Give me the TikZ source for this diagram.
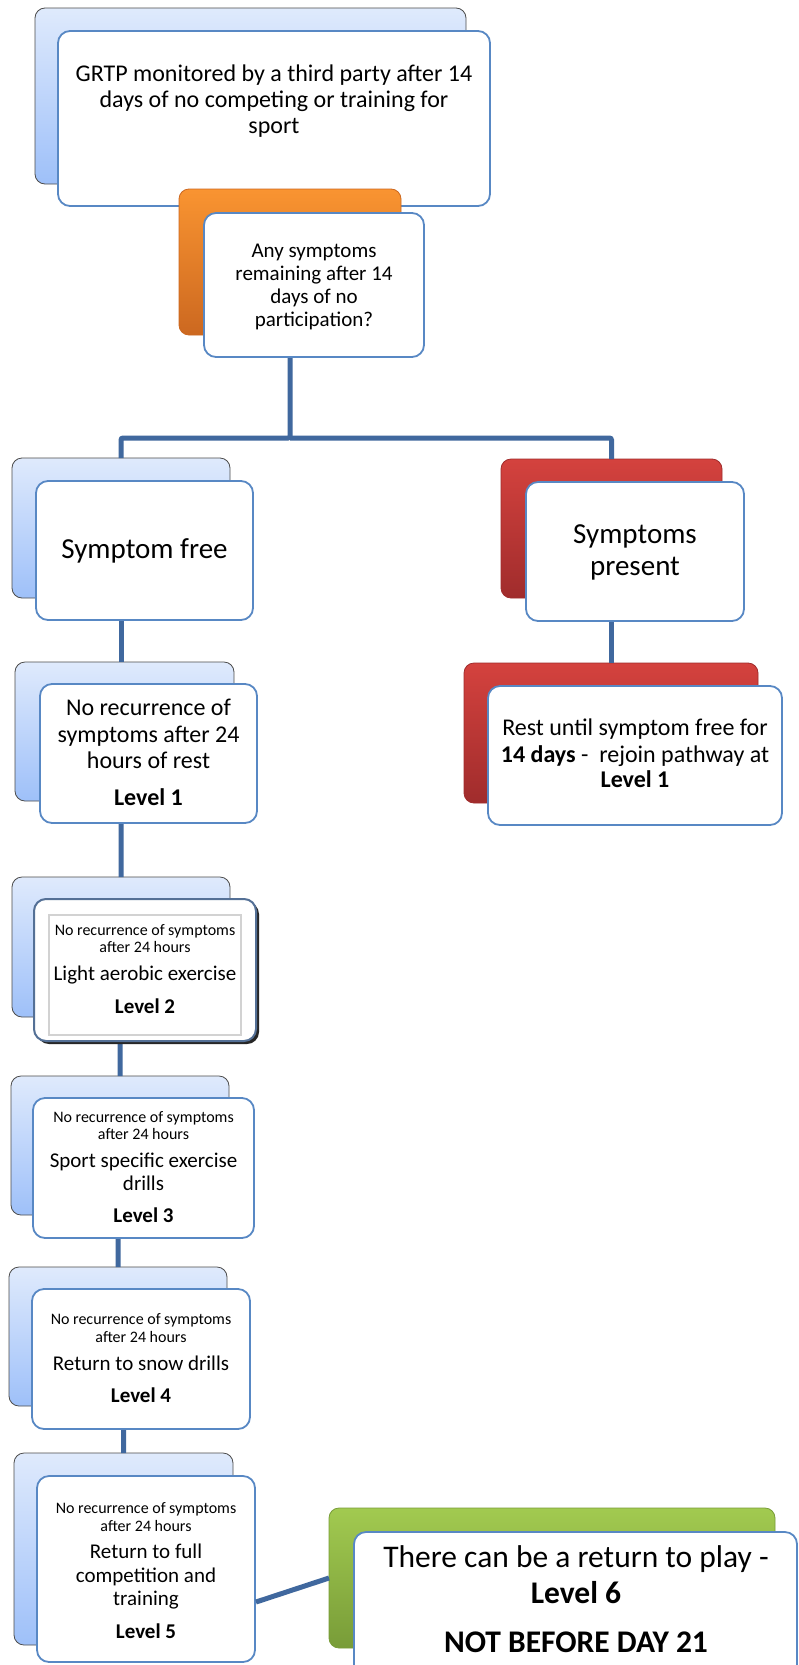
\documentclass[tikz,border=0pt]{standalone}
\usepackage{fontspec}
\setmainfont{Carlito}
\definecolor{bbTop}{RGB}{223,234,252}
\definecolor{bbBot}{RGB}{158,192,249}
\definecolor{orTop}{RGB}{249,148,49}
\definecolor{orBot}{RGB}{204,104,32}
\definecolor{rdTop}{RGB}{212,66,62}
\definecolor{rdBot}{RGB}{160,44,44}
\definecolor{grTop}{RGB}{162,202,80}
\definecolor{grBot}{RGB}{120,156,56}
\definecolor{frC}{RGB}{88,136,196}
\definecolor{connC}{RGB}{64,104,158}
\newcommand\fXL{\fontsize{31.5}{36}\selectfont}
\newcommand\fLg{\fontsize{29}{32}\selectfont}
\newcommand\fMd{\fontsize{24}{26.5}\selectfont}
\newcommand\fQn{\fontsize{21}{23}\selectfont}
\newcommand\fSm{\fontsize{16}{17.5}\selectfont}
\newcommand\bx[6]{\node[#1, minimum width={#5-#3}, minimum height={#6-#4}] (#2) at (#3,#4) {};}
\newcommand\tx[5]{\node[txt, font=#4] (#1) at (#2,#3) {#5};}
\tikzset{
  conn/.style={draw=connC, line width=5pt, rounded corners=2pt},
  bk/.style={anchor=north west, inner sep=0pt, outer sep=0pt, rounded corners=10pt, line width=0.8pt},
  bkblue/.style={bk, draw=black!70, top color=bbTop, bottom color=bbBot},
  bkorange/.style={bk, draw=orBot, top color=orTop, bottom color=orBot},
  bkred/.style={bk, draw=rdBot, top color=rdTop, bottom color=rdBot},
  bkgreen/.style={bk, draw=grBot, top color=grTop, bottom color=grBot},
  fr/.style={anchor=north west, inner sep=0pt, outer sep=0pt, rounded corners=12pt, draw=frC, line width=1.8pt, fill=white},
  frdark/.style={fr, draw={rgb,255:red,84;green,112;blue,150}, line width=2pt},
  txt/.style={anchor=base, inner sep=0pt, outer sep=0pt}
}
\begin{document}
\begin{tikzpicture}[x=1pt,y=-1pt]
\useasboundingbox[fill=white] (0,0) rectangle (798,1665);
% boxes in stacking order: top pair, then the orange box over the top front box
\bx{bkblue}{topB}{35}{8}{466}{184}
\bx{fr}{topF}{58}{31}{490}{206}
\bx{bkorange}{qB}{179}{189}{401}{335}
\bx{bkblue}{sfB}{12}{458}{230}{598}
\bx{bkred}{spB}{501}{459}{722}{598}
\bx{bkblue}{l1B}{15}{662}{234}{801}
\bx{bkred}{restB}{464}{663}{758}{803}
\bx{bkblue}{l2B}{12}{877}{230}{1017}
\bx{bkblue}{l3B}{11}{1076}{229}{1215}
\bx{bkblue}{l4B}{9}{1267}{227}{1406}
\bx{bkblue}{l5B}{14}{1453}{233}{1645}
\bx{bkgreen}{gB}{329}{1508}{775}{1648}
% connectors
\coordinate (hbar) at (0,438);
\draw[conn] (qB.south) -- (qB.south |- hbar) -| (sfB.north);
\draw[conn] (qB.south |- hbar) -| (spB.north);
\draw[conn] (sfB.south) -- (sfB.south |- l1B.north);
\draw[conn] (spB.south) -- (spB.south |- restB.north);
\draw[conn] (l1B.south) -- (l1B.south -| l2B.north) -- (l2B.north);
\draw[conn] (l2B.south) -- (l2B.south -| l3B.north) -- (l3B.north);
\draw[conn] (l3B.south) -- (l3B.south -| l4B.north) -- (l4B.north);
\draw[conn] (l4B.south) -- (l4B.south -| l5B.north) -- (l5B.north);
% front boxes
\bx{fr}{qF}{204}{213}{424}{357}
\bx{fr}{sfF}{36}{481}{253}{620}
\bx{fr}{spF}{526}{482}{744}{621}
\bx{fr}{l1F}{40}{684}{257}{823}
\bx{fr}{restF}{488}{686}{782}{825}
\fill[black!85, rounded corners=12pt] (37,902) rectangle (259,1044);
\bx{frdark}{l2F}{34}{899}{256}{1041}
\draw[gray!35, line width=1.5pt] (49,915) rectangle (241,1035);
\bx{fr}{l3F}{33}{1098}{254}{1238}
\bx{fr}{l4F}{32}{1289}{250}{1429}
\bx{fr}{l5F}{37}{1476}{255}{1662}
\draw[conn] (l5F.east) ++(1,33) -- (gB.west);
\bx{fr}{l6F}{354}{1532}{797}{1690}
% texts
\tx{t1}{274}{81}{\fMd}{GRTP monitored by a third party after 14}
\tx{t2}{274}{107}{\fMd}{days of no competing or training for}
\tx{t3}{274}{133}{\fMd}{sport}
\tx{q1}{314}{257}{\fQn}{Any symptoms}
\tx{q2}{314}{280}{\fQn}{remaining after 14}
\tx{q3}{314}{303}{\fQn}{days of no}
\tx{q4}{314}{326}{\fQn}{participation?}
\tx{sf1}{144.5}{558}{\fLg}{Symptom free}
\tx{sp1}{635}{543}{\fLg}{Symptoms}
\tx{sp2}{635}{575}{\fLg}{present}
\tx{a1}{148.5}{715}{\fMd}{No recurrence of}
\tx{a2}{148.5}{742}{\fMd}{symptoms after 24}
\tx{a3}{148.5}{768}{\fMd}{hours of rest}
\tx{a4}{148.5}{805}{\fMd\bfseries}{Level 1}
\tx{r1}{635}{735}{\fMd}{Rest until symptom free for}
\tx{r2}{635}{762}{\fMd}{\textbf{14 days} -\ \ rejoin pathway at}
\tx{r3}{635}{787}{\fMd\bfseries}{Level 1}
\tx{b1}{145}{935}{\fSm}{No recurrence of symptoms}
\tx{b2}{145}{952}{\fSm}{after 24 hours}
\tx{b3}{145}{980}{\fQn}{Light aerobic exercise}
\tx{b4}{145}{1013}{\fQn\bfseries}{Level 2}
\tx{c1}{143.5}{1122}{\fSm}{No recurrence of symptoms}
\tx{c2}{143.5}{1139}{\fSm}{after 24 hours}
\tx{c3}{143.5}{1167}{\fQn}{Sport specific exercise}
\tx{c4}{143.5}{1190}{\fQn}{drills}
\tx{c5}{143.5}{1222}{\fQn\bfseries}{Level 3}
\tx{d1}{141}{1324}{\fSm}{No recurrence of symptoms}
\tx{d2}{141}{1342}{\fSm}{after 24 hours}
\tx{d3}{141}{1370}{\fQn}{Return to snow drills}
\tx{d4}{141}{1402}{\fQn\bfseries}{Level 4}
\tx{e1}{146}{1513}{\fSm}{No recurrence of symptoms}
\tx{e2}{146}{1531}{\fSm}{after 24 hours}
\tx{e3}{146}{1558}{\fQn}{Return to full}
\tx{e4}{146}{1582}{\fQn}{competition and}
\tx{e5}{146}{1605}{\fQn}{training}
\tx{e6}{146}{1638}{\fQn\bfseries}{Level 5}
\tx{g1}{576}{1567}{\fXL}{There can be a return to play -}
\tx{g2}{576}{1603}{\fXL\bfseries}{Level 6}
\tx{g3}{576}{1652}{\fXL\bfseries}{NOT BEFORE DAY 21}
\end{tikzpicture}
\end{document}
